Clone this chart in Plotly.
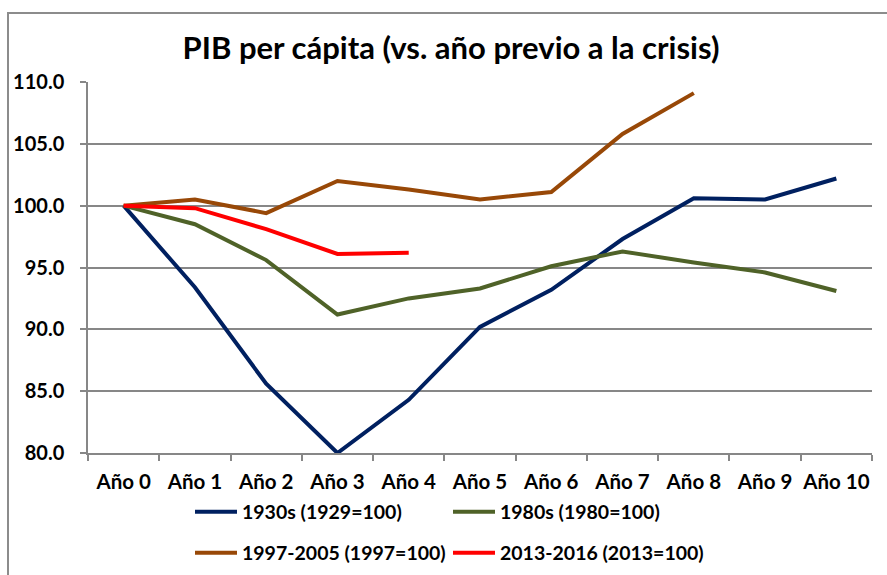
import plotly.graph_objects as go

categories = ["Año 0", "Año 1", "Año 2", "Año 3", "Año 4", "Año 5",
              "Año 6", "Año 7", "Año 8", "Año 9", "Año 10"]
s1930 = [100.0, 93.4, 85.6, 80.0, 84.3, 90.2, 93.2, 97.3, 100.6, 100.5, 102.2]
s1980 = [100.0, 98.5, 95.6, 91.2, 92.5, 93.3, 95.1, 96.3, 95.4, 94.6, 93.1]
s1997 = [100.0, 100.5, 99.4, 102.0, 101.3, 100.5, 101.1, 105.8, 109.1]
s2013 = [100.0, 99.8, 98.1, 96.1, 96.2]
names = ["1930s (1929=100)", "1980s (1980=100)", "1997-2005 (1997=100)", "2013-2016 (2013=100)"]
colors = ["#002060", "#4F6228", "#984807", "#FF0000"]

W, H = 887, 575
L, R, T, B = 88, 15, 82, 122
pw, ph = W - L - R, H - T - B

fig = go.Figure()
series = [s1930, s1980, s1997, s2013]
legends = ["legend", "legend", "legend2", "legend2"]
for vals, nm, col, lg in zip(series, names, colors, legends):
    fig.add_trace(go.Scatter(x=categories[:len(vals)], y=vals, name="<b>" + nm + "</b>",
                             mode="lines", line=dict(color=col, width=4), legend=lg))

font = "Lato"
lgd = dict(orientation="h", xref="container", yref="container",
           x=190 / W, xanchor="left", entrywidth=201, entrywidthmode="pixels",
           itemwidth=42,
           font=dict(size=19.5, family=font, color="black"), bgcolor="rgba(0,0,0,0)")
fig.update_layout(
    width=W, height=H,
    margin=dict(l=L, r=R, t=T, b=B, autoexpand=False),
    paper_bgcolor="white", plot_bgcolor="white",
    font=dict(family=font, size=19, color="black"),
    title=dict(text="<b>PIB per cápita (vs. año previo a la crisis)</b>",
               x=451 / W, xanchor="center", xref="container",
               y=1 - 48 / H, yanchor="middle", yref="container",
               font=dict(size=31, family=font, color="black")),
    showlegend=True,
    legend=dict(lgd, y=1 - 512 / H, yanchor="middle"),
    legend2=dict(lgd, y=1 - 553 / H, yanchor="middle"),
)
fig.update_xaxes(type="category", categoryorder="array", categoryarray=categories,
                 range=[-0.5, 10.5], showline=True, linecolor="#878787", linewidth=1.5,
                 ticks="outside", tickson="boundaries", ticklen=6, tickcolor="#878787",
                 tickwidth=1.5, tickfont=dict(size=20.5, family=font, color="black"),
                 tickangle=0,
                 tickprefix="<b>", ticksuffix="</b>", showgrid=False, fixedrange=True,
                 automargin=False, ticklabelstandoff=10)
fig.update_yaxes(range=[80, 110], dtick=5, tickformat=".1f", showline=True,
                 linecolor="#878787", linewidth=1.5, ticks="outside", ticklen=6,
                 tickcolor="#878787", tickwidth=1.5, showgrid=True, gridcolor="#878787",
                 gridwidth=1.5, tickprefix="<b>", ticksuffix="</b>",
                 tickfont=dict(size=20, family=font, color="black"), zeroline=False,
                 automargin=False, ticklabelstandoff=12)

# outer chart frame
fig.add_shape(type="rect", xref="paper", yref="paper",
              x0=(8 - L) / pw, x1=(W + 5 - L) / pw,
              y0=(H - B - (H + 5)) / ph, y1=(H - B - 13) / ph,
              line=dict(color="#8C8C8C", width=2), fillcolor="rgba(0,0,0,0)", layer="below")

fig.write_html("out.html", config={"displayModeBar": False},
               post_script="document.body.style.margin='0';document.body.style.overflow='hidden';")
